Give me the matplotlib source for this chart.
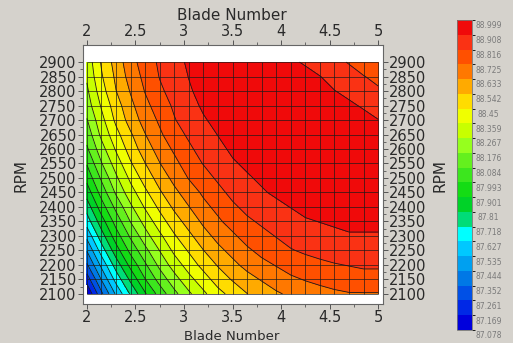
import matplotlib
matplotlib.use("Agg")
import matplotlib.pyplot as plt
from matplotlib.colors import ListedColormap, BoundaryNorm
from matplotlib.cm import ScalarMappable

# ── data ──────────────────────────────
blade = [2.0, 2.15, 2.3, 2.45, 2.6, 2.75, 2.9, 3.05, 3.2, 3.35, 3.5,
         3.65, 3.8, 3.95, 4.1, 4.25, 4.4, 4.55, 4.7, 4.85, 5.0]
rpm = [2100, 2150, 2200, 2250, 2300, 2350, 2400, 2450, 2500,
       2550, 2600, 2650, 2700, 2750, 2800, 2850, 2900]

# efficiency, one row per RPM (2100 -> 2900)
efficiency = [
    [87.08, 87.33, 87.55, 87.73, 87.89, 88.03, 88.15, 88.25, 88.34, 88.42, 88.48,
     88.54, 88.58, 88.62, 88.65, 88.68, 88.69, 88.71, 88.72, 88.72, 88.72],
    [87.21, 87.45, 87.66, 87.83, 87.99, 88.12, 88.23, 88.33, 88.41, 88.49, 88.55,
     88.60, 88.64, 88.68, 88.71, 88.73, 88.75, 88.76, 88.77, 88.78, 88.78],
    [87.34, 87.56, 87.76, 87.93, 88.07, 88.20, 88.31, 88.40, 88.48, 88.55, 88.61,
     88.66, 88.70, 88.73, 88.76, 88.78, 88.80, 88.81, 88.82, 88.83, 88.83],
    [87.45, 87.67, 87.86, 88.02, 88.15, 88.27, 88.38, 88.46, 88.54, 88.61, 88.66,
     88.71, 88.75, 88.78, 88.81, 88.83, 88.84, 88.86, 88.86, 88.87, 88.87],
    [87.56, 87.77, 87.95, 88.10, 88.23, 88.34, 88.44, 88.52, 88.60, 88.66, 88.71,
     88.76, 88.79, 88.82, 88.85, 88.87, 88.88, 88.89, 88.90, 88.90, 88.90],
    [87.67, 87.86, 88.03, 88.18, 88.30, 88.41, 88.50, 88.58, 88.65, 88.71, 88.76,
     88.80, 88.83, 88.86, 88.88, 88.90, 88.91, 88.92, 88.93, 88.93, 88.93],
    [87.76, 87.95, 88.11, 88.25, 88.37, 88.47, 88.56, 88.63, 88.70, 88.75, 88.80,
     88.84, 88.87, 88.89, 88.91, 88.93, 88.94, 88.95, 88.95, 88.95, 88.95],
    [87.85, 88.03, 88.19, 88.32, 88.43, 88.53, 88.61, 88.68, 88.74, 88.79, 88.84,
     88.87, 88.90, 88.92, 88.94, 88.95, 88.96, 88.97, 88.97, 88.96, 88.96],
    [87.93, 88.10, 88.25, 88.38, 88.49, 88.58, 88.66, 88.73, 88.78, 88.83, 88.87,
     88.90, 88.92, 88.94, 88.96, 88.97, 88.97, 88.98, 88.98, 88.97, 88.96],
    [88.00, 88.17, 88.31, 88.44, 88.54, 88.63, 88.70, 88.77, 88.82, 88.86, 88.90,
     88.92, 88.95, 88.96, 88.97, 88.98, 88.98, 88.98, 88.98, 88.97, 88.96],
    [88.07, 88.23, 88.37, 88.49, 88.59, 88.67, 88.74, 88.80, 88.85, 88.89, 88.92,
     88.94, 88.96, 88.97, 88.98, 88.99, 88.99, 88.98, 88.97, 88.96, 88.95],
    [88.12, 88.29, 88.42, 88.53, 88.63, 88.71, 88.78, 88.83, 88.88, 88.91, 88.94,
     88.96, 88.97, 88.98, 88.99, 88.99, 88.98, 88.97, 88.96, 88.95, 88.93],
    [88.17, 88.33, 88.47, 88.58, 88.67, 88.74, 88.81, 88.86, 88.90, 88.93, 88.95,
     88.97, 88.98, 88.98, 88.98, 88.98, 88.97, 88.96, 88.95, 88.93, 88.91],
    [88.22, 88.37, 88.50, 88.61, 88.70, 88.77, 88.83, 88.88, 88.92, 88.94, 88.96,
     88.98, 88.98, 88.98, 88.98, 88.97, 88.96, 88.94, 88.92, 88.90, 88.87],
    [88.25, 88.41, 88.54, 88.64, 88.73, 88.80, 88.85, 88.90, 88.93, 88.95, 88.97,
     88.98, 88.98, 88.97, 88.97, 88.95, 88.94, 88.91, 88.89, 88.86, 88.83],
    [88.28, 88.44, 88.56, 88.67, 88.75, 88.82, 88.87, 88.91, 88.94, 88.96, 88.97,
     88.97, 88.97, 88.96, 88.95, 88.93, 88.91, 88.88, 88.85, 88.82, 88.79],
    [88.30, 88.46, 88.58, 88.69, 88.77, 88.83, 88.88, 88.92, 88.94, 88.96, 88.97,
     88.96, 88.96, 88.94, 88.92, 88.90, 88.87, 88.84, 88.81, 88.77, 88.73],
]

levels = [87.078, 87.169, 87.261, 87.352, 87.444, 87.535, 87.627, 87.718,
          87.81, 87.901, 87.993, 88.084, 88.176, 88.267, 88.359, 88.45,
          88.542, 88.633, 88.725, 88.816, 88.908, 88.999]
level_labels = ["87.078", "87.169", "87.261", "87.352", "87.444", "87.535",
                "87.627", "87.718", "87.81", "87.901", "87.993", "88.084",
                "88.176", "88.267", "88.359", "88.45", "88.542", "88.633",
                "88.725", "88.816", "88.908", "88.999"]
# band colours, lowest band first
band_colors = ["#0000dc", "#0028e6", "#0050e6", "#0078e6", "#00a0f0",
               "#00c8ff", "#00ffff", "#00dc78", "#00d228", "#14dc14",
               "#3ce61e", "#64f01e", "#96ff1e", "#c8ff00", "#f0ff00",
               "#ffdc00", "#ffaa00", "#ff7800", "#ff5000", "#fa3214",
               "#f00a0a"]

# ── figure ────────────────────────────
fig = plt.figure(figsize=(5.13, 3.43), dpi=100, facecolor="#d5d2cc")
ax = fig.add_axes([83 / 513, 39 / 343, 300 / 513, 259 / 343])
ax.set_facecolor("white")

cmap = ListedColormap(band_colors)
norm = BoundaryNorm(levels, cmap.N)
ax.contourf(blade, rpm, efficiency, levels=levels, cmap=cmap, norm=norm)
ax.contour(blade, rpm, efficiency, levels=levels[1:-1], colors="#1a1a1a",
           linewidths=0.6)
# mesh
ax.vlines(blade, rpm[0], rpm[-1], colors="#1a1a1a", linewidth=0.6, alpha=0.8)
ax.hlines(rpm, blade[0], blade[-1], colors="#1a1a1a", linewidth=0.6, alpha=0.8)

ax.set_xlim(1.96, 5.05)
ax.set_ylim(2065, 2959)
ax.set_xticks([2, 2.5, 3, 3.5, 4, 4.5, 5])
ax.set_xticklabels(["2", "2.5", "3", "3.5", "4", "4.5", "5"])
ax.set_xticks([2.25, 2.75, 3.25, 3.75, 4.25, 4.75], minor=True)
ax.set_yticks(rpm)
ax.set_yticks([r + 25 for r in rpm[:-1]], minor=True)
ax.tick_params(which="both", direction="out", top=True, right=True,
               labeltop=True, labelright=True, colors="#555555",
               labelcolor="#2a2a2a", labelsize=10.5)
ax.tick_params(which="major", length=3.5, width=0.7, pad=1)
ax.tick_params(which="minor", length=2, width=0.6)
ax.tick_params(axis="x", which="major", pad=0.5)
for sp in ax.spines.values():
    sp.set_color("#666666")
    sp.set_linewidth(0.8)

# axis titles on all four sides
fig.text(232 / 513, 1 - 16 / 343, "Blade Number", ha="center", va="center",
         fontsize=11, color="#2a2a2a")
fig.text(232 / 513, 0.5 / 343, "Blade Number", ha="center", va="bottom",
         fontsize=9.5, color="#2a2a2a")
fig.text(21 / 513, 1 - 176 / 343, "RPM", rotation=90, ha="center", va="center",
         fontsize=11, color="#2a2a2a")
fig.text(440 / 513, 1 - 176 / 343, "RPM", rotation=90, ha="center", va="center",
         fontsize=11, color="#2a2a2a")

# ── colour bar ────────────────────────
cax = fig.add_axes([457 / 513, 13 / 343, 15 / 513, 310 / 343])
cb = fig.colorbar(ScalarMappable(norm=norm, cmap=cmap), cax=cax, ticks=[])
cb.outline.set_edgecolor("#777777")
cb.outline.set_linewidth(0.6)
n = len(level_labels)
for k, lab in enumerate(reversed(level_labels)):
    cax.text(2.1, 1 - (k + 0.4) / (n - 1), lab, transform=cax.transAxes,
             ha="center", va="center", fontsize=5.5, color="#7a7a7a",
             clip_on=False)

fig.savefig("out.png", dpi=100, facecolor=fig.get_facecolor())
